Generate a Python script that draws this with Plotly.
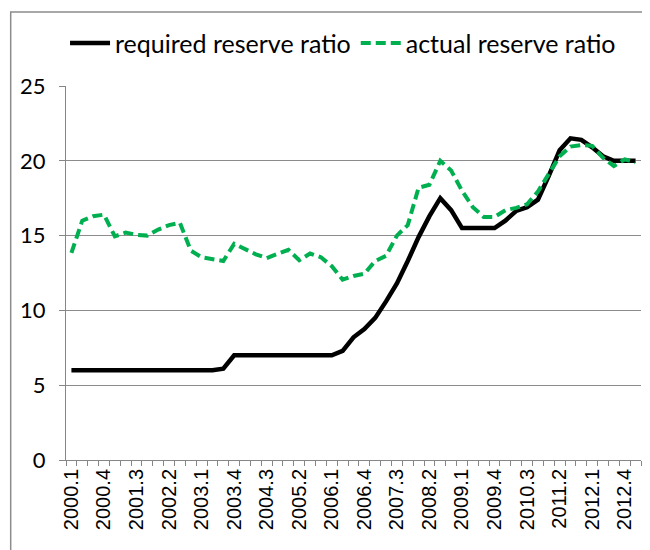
import plotly.graph_objects as go

# ---- data ----
quarters = [f"{y}.{q}" for y in range(2000, 2014) for q in range(1, 5)][:53]  # 2000.1 .. 2013.1

required = [6.0] * 14 + [6.1] + [7.0] * 10 + [
    7.3, 8.2, 8.75, 9.5, 10.6, 11.8, 13.3, 14.9, 16.3, 17.5,
    16.7, 15.5, 15.5, 15.5, 15.5, 16.0, 16.65, 16.9, 17.4, 19.0,
    20.7, 21.5, 21.4, 20.9, 20.3, 20.0, 20.0, 20.0]

actual = [13.85, 16.0, 16.3, 16.4, 14.95, 15.2, 15.05, 15.0, 15.4, 15.7,
          15.85, 14.0, 13.55, 13.45, 13.3, 14.45, 14.1, 13.75, 13.5, 13.8,
          14.05, 13.35, 13.8, 13.55, 12.95, 12.05, 12.3, 12.45, 13.3, 13.65,
          15.0, 15.7, 18.2, 18.4, 20.0, 19.35, 18.0, 16.9, 16.25, 16.25,
          16.7, 16.85, 17.1, 17.95, 19.1, 20.3, 20.95, 21.05, 21.0, 20.2,
          19.65, 20.1, 19.9]

tick_text = [q if i % 3 == 0 else "" for i, q in enumerate(quarters)]
y_ticks = [0, 5, 10, 15, 20, 25]

# ---- figure ----
# page body adds an 8px offset; figure coords = screen coords - 8
W, H = 650, 550
ML, MR, MT, MB = 56, 17, 75, 98

fig = go.Figure()
fig.add_trace(go.Scatter(x=quarters, y=required, mode="lines",
                         name="required reserve ratio",
                         line=dict(color="#000000", width=4.5)))
fig.add_trace(go.Scatter(x=quarters, y=actual, mode="lines",
                         name="actual reserve ratio",
                         line=dict(color="#00B050", width=4, dash="10px,5px")))

def px_x(p):
    return (p - ML) / (W - ML - MR)

def px_y(p):
    return 1 - (p - MT) / (H - MT - MB)

# chart-area frame: only its left and top edges fall inside the picture
fig.add_shape(type="rect", xref="paper", yref="paper",
              x0=px_x(0.5), x1=px_x(720), y0=px_y(620), y1=px_y(0.5),
              line=dict(color="#8c8c8c", width=1.5), layer="below")

fig.update_layout(
    width=W, height=H,
    margin=dict(l=ML, r=MR, t=MT, b=MB),
    paper_bgcolor="white", plot_bgcolor="white",
    font=dict(family="Lato, Liberation Sans, sans-serif", color="#000000"),
    showlegend=True,
    legend=dict(orientation="h", x=px_x(334), xanchor="center", y=px_y(32), yanchor="middle",
                font=dict(size=25, family="Lato, sans-serif"),
                itemwidth=40, tracegroupgap=0, bgcolor="rgba(0,0,0,0)"),
    xaxis=dict(type="category", categoryorder="array", categoryarray=quarters,
               tickmode="array", tickvals=quarters, ticktext=tick_text,
               tickson="boundaries", ticks="outside", ticklen=5, tickcolor="#868686",
               tickangle=-90, showgrid=False, showline=True, linecolor="#868686",
               linewidth=1, tickfont=dict(size=20, family="Liberation Sans, Arial, sans-serif"),
               range=[-0.5, len(quarters) - 0.5]),
    yaxis=dict(range=[0, 25], tickmode="array", tickvals=y_ticks,
               ticks="outside", ticklen=6, tickcolor="#868686",
               showgrid=True, gridcolor="#8c8c8c", gridwidth=1,
               showline=True, linecolor="#868686", linewidth=1,
               zeroline=False, ticklabelstandoff=9,
               tickfont=dict(size=22, family="Lato, sans-serif")),
)

fig.write_html("out.html")
